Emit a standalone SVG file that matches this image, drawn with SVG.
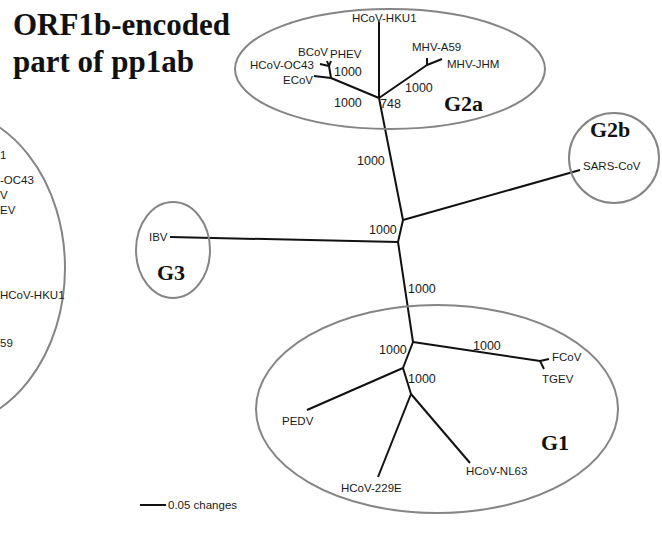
<svg xmlns="http://www.w3.org/2000/svg" width="662" height="539" viewBox="0 0 662 539">
<style>
.title{font-family:"Liberation Serif",serif;font-weight:bold;font-size:31px;fill:#111}
.grp{font-family:"Liberation Serif",serif;font-weight:bold;font-size:22px;fill:#111}
.lbl{font-family:"Liberation Sans",Arial,sans-serif;font-size:11.5px;fill:#1a1a1a}
.bs{font-family:"Liberation Sans",Arial,sans-serif;font-size:12.5px;fill:#1a1a1a}
.ring{fill:none;stroke:#858585;stroke-width:2}
.br{fill:none;stroke:#111;stroke-width:2;stroke-linecap:butt;stroke-linejoin:round}
</style>
<rect width="662" height="539" fill="#fff"/>
<text class="title" x="13" y="35">ORF1b-encoded</text>
<text class="title" x="13" y="72">part of pp1ab</text>

<g id="left-partial">
<ellipse class="ring" cx="-60" cy="268" rx="125" ry="160"/>
<text class="lbl" x="0" y="159">1</text>
<text class="lbl" x="0" y="184">-OC43</text>
<text class="lbl" x="0" y="199">V</text>
<text class="lbl" x="0" y="214">EV</text>
<text class="lbl" x="0" y="299">HCoV-HKU1</text>
<text class="lbl" x="0" y="347">59</text>
</g>

<g id="connectors">
<polyline class="br" points="379,22 379,98"/>
<polyline class="br" points="379,98 427,65 442,59"/>
<polyline class="br" points="427,65 427,58"/>
<polyline class="br" points="379,98 331,78 314,76"/>
<polyline class="br" points="331,78 329,66 320,64"/>
<polyline class="br" points="329,66 327,61"/>
<polyline class="br" points="329,66 331,61"/>
<polyline class="br" points="379,98 403,220 398,242 413,342 403,368 411,394"/>
<polyline class="br" points="403,220 580,170"/>
<polyline class="br" points="170,237 398,242"/>
<polyline class="br" points="413,342 540,361 549,359"/>
<polyline class="br" points="540,361 544,369"/>
<polyline class="br" points="403,368 307,410"/>
<polyline class="br" points="411,394 378,477"/>
<polyline class="br" points="411,394 470,463"/>
<line class="br" x1="140" y1="505" x2="166" y2="505"/>
</g>

<g id="G2a">
<ellipse class="ring" cx="390" cy="69" rx="155" ry="60"/>
<text class="grp" x="444" y="111">G2a</text>
<text class="lbl" x="352" y="22">HCoV-HKU1</text>
<text class="lbl" x="412" y="51">MHV-A59</text>
<text class="lbl" x="447" y="68">MHV-JHM</text>
<text class="lbl" x="298" y="56">BCoV</text>
<text class="lbl" x="330" y="58">PHEV</text>
<text class="lbl" x="250" y="69">HCoV-OC43</text>
<text class="lbl" x="283" y="84">ECoV</text>
<text class="bs" x="334" y="76">1000</text>
<text class="bs" x="334" y="107">1000</text>
<text class="bs" x="405" y="92">1000</text>
<text class="bs" x="380" y="108">748</text>
</g>

<g id="G2b">
<circle class="ring" cx="614" cy="158" r="45"/>
<text class="grp" x="590" y="137">G2b</text>
<text class="lbl" x="583" y="170">SARS-CoV</text>
</g>

<g id="G3">
<ellipse class="ring" cx="173" cy="250" rx="37" ry="48"/>
<text class="grp" x="157" y="280">G3</text>
<text class="lbl" x="149" y="241">IBV</text>
</g>

<g id="backbone-labels">
<text class="bs" x="357" y="165">1000</text>
<text class="bs" x="369" y="234">1000</text>
<text class="bs" x="408" y="293">1000</text>
</g>

<g id="G1">
<ellipse class="ring" cx="437" cy="409" rx="181" ry="104"/>
<text class="grp" x="541" y="450">G1</text>
<text class="bs" x="379" y="354">1000</text>
<text class="bs" x="408" y="383">1000</text>
<text class="bs" x="473" y="350">1000</text>
<text class="lbl" x="552" y="361">FCoV</text>
<text class="lbl" x="542" y="383">TGEV</text>
<text class="lbl" x="282" y="425">PEDV</text>
<text class="lbl" x="341" y="492">HCoV-229E</text>
<text class="lbl" x="466" y="475">HCoV-NL63</text>
</g>

<g id="scale">
<text class="lbl" x="168" y="509">0.05 changes</text>
</g>
</svg>
